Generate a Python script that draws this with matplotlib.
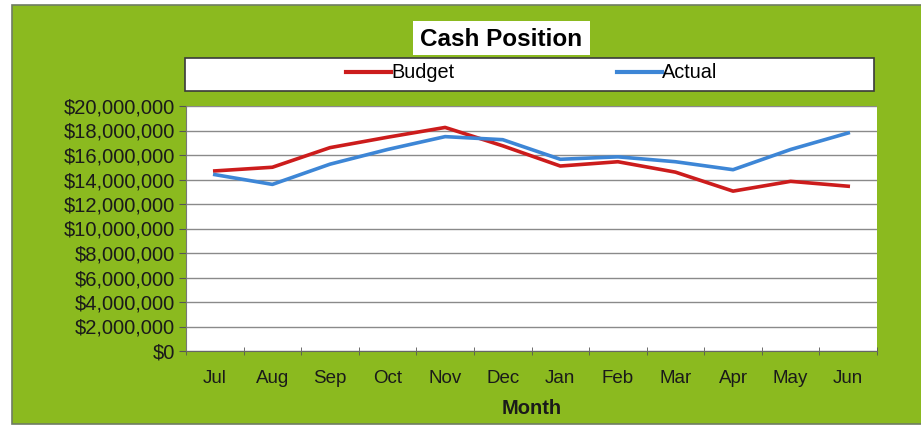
import matplotlib.pyplot as plt
from matplotlib.patches import Rectangle
from matplotlib.ticker import FuncFormatter, MultipleLocator
from matplotlib.lines import Line2D

months = ["Jul", "Aug", "Sep", "Oct", "Nov", "Dec",
          "Jan", "Feb", "Mar", "Apr", "May", "Jun"]
budget = [14.7, 15.0, 16.6, 17.45, 18.25, 16.75, 15.1, 15.45, 14.6, 13.05, 13.85, 13.45]
actual = [14.4, 13.6, 15.25, 16.45, 17.5, 17.25, 15.65, 15.85, 15.45, 14.8, 16.45, 17.8]
budget = [v * 1e6 for v in budget]
actual = [v * 1e6 for v in actual]

W, H = 921, 433
GREEN = "#8bba1f"
RED = "#cc1c1c"
BLUE = "#3d86d6"

plt.rcParams["font.family"] = ["Liberation Sans", "DejaVu Sans"]

fig = plt.figure(figsize=(W / 100, H / 100), dpi=100, facecolor="white")


def box(x0, y0, x1, y1, **kw):
    # pixel box (top-left origin) -> figure fraction rectangle
    r = Rectangle((x0 / W, 1 - y1 / H), (x1 - x0) / W, (y1 - y0) / H,
                  transform=fig.transFigure, **kw)
    fig.add_artist(r)
    return r


# green panel (runs off the right edge)
box(12, 5, 930, 424, facecolor=GREEN, edgecolor="#6f7d62", linewidth=1.2, zorder=0)
# title box
box(413, 21, 590, 55, facecolor="white", edgecolor="none", zorder=1)
fig.text(501.5 / W, 1 - 39 / H, "Cash Position", ha="center", va="center",
         fontsize=17.5, fontweight="bold", color="black", zorder=2)
# legend box
box(185, 58, 874, 91, facecolor="white", edgecolor="#3a3a3a", linewidth=1.2, zorder=1)

ax = fig.add_axes([186 / W, 1 - 351 / H, (877 - 186) / W, (351 - 106) / H])
ax.set_facecolor("white")
x = list(range(len(months)))
ax.plot(x, budget, color=RED, linewidth=2.6, label="Budget", zorder=3)
ax.plot(x, actual, color=BLUE, linewidth=2.6, label="Actual", zorder=3)

ax.set_xlim(-0.5, len(months) - 0.5)
ax.set_ylim(0, 20e6)
ax.yaxis.set_major_locator(MultipleLocator(2e6))
ax.yaxis.set_major_formatter(FuncFormatter(lambda v, p: "${:,.0f}".format(v)))
ax.grid(axis="y", color="#8a8a8a", linewidth=1.0)
ax.set_axisbelow(True)

ax.set_xticks(x)
ax.set_xticklabels(months)
ax.set_xticks([i - 0.5 for i in range(len(months) + 1)], minor=True)
ax.tick_params(axis="x", which="major", length=0, pad=14, labelsize=13.5, labelcolor="#1a1a1a")
ax.tick_params(axis="x", which="minor", length=6, direction="inout", color="#555555")
ax.tick_params(axis="y", length=5, color="#555555", labelsize=14.5, labelcolor="#1a1a1a", pad=3)

for s in ["top", "right"]:
    ax.spines[s].set_visible(False)
ax.spines["left"].set_color("#777777")
ax.spines["bottom"].set_color("#666666")

ax.set_xlabel("Month", fontsize=14.5, fontweight="bold", color="#1a1a1a", labelpad=8)

handles = [Line2D([], [], color=RED, linewidth=3), Line2D([], [], color=BLUE, linewidth=3)]
fig.legend(handles, ["Budget", "Actual"], loc="center",
           bbox_to_anchor=(532 / W, 1 - 73 / H), ncol=2, frameon=False,
           fontsize=14.3, handlelength=2.26, handletextpad=0.0, columnspacing=8.2)

fig.savefig("out.png", dpi=100, facecolor="white")
